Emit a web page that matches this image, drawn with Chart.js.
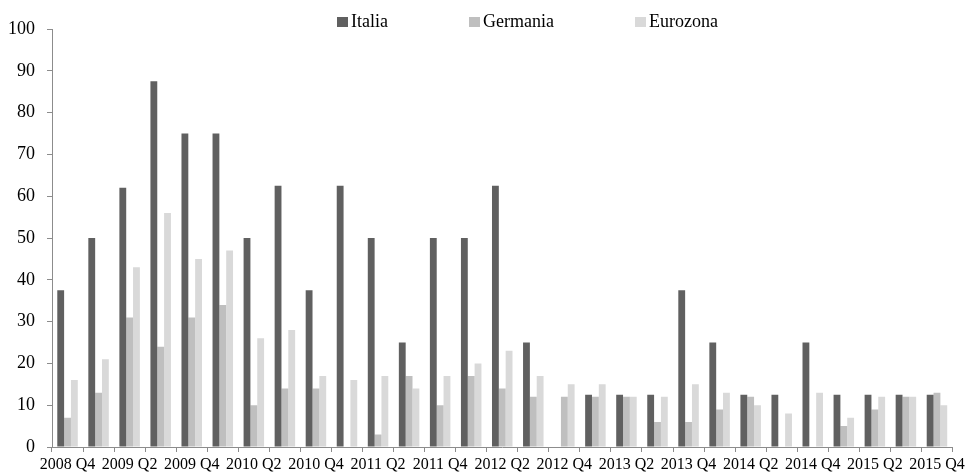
<!DOCTYPE html>
<html>
<head>
<meta charset="utf-8">
<script src="https://cdn.jsdelivr.net/npm/chart.js@4/dist/chart.umd.min.js"></script>
<style>
  html, body { margin: 0; padding: 0; background: #fff; }
  #wrap { position: relative; width: 968px; height: 473px; }
  #legend { position: absolute; top: 10px; left: 0; width: 968px; height: 22px;
            font-family: "Liberation Serif", "Times New Roman", serif; font-size: 18px; color: #000; }
  .item { position: absolute; top: 0; height: 22px; line-height: 22px; white-space: nowrap; }
  .item .box { display: inline-block; width: 11px; height: 10px; margin-right: 3px; vertical-align: 0px; }
</style>
</head>
<body>
<div id="wrap">
  <canvas id="chart" width="968" height="473"></canvas>
  <div id="legend"></div>
</div>
<script>
// Quarters from 2008 Q4 to 2015 Q4
const quarters = [
  '2008 Q4',
  '2009 Q1', '2009 Q2', '2009 Q3', '2009 Q4',
  '2010 Q1', '2010 Q2', '2010 Q3', '2010 Q4',
  '2011 Q1', '2011 Q2', '2011 Q3', '2011 Q4',
  '2012 Q1', '2012 Q2', '2012 Q3', '2012 Q4',
  '2013 Q1', '2013 Q2', '2013 Q3', '2013 Q4',
  '2014 Q1', '2014 Q2', '2014 Q3', '2014 Q4',
  '2015 Q1', '2015 Q2', '2015 Q3', '2015 Q4'
];

const seriesNames = ['Italia', 'Germania', 'Eurozona'];

const italia = [
  37.5, 50, 62, 87.5, 75, 75, 50, 62.5, 37.5, 62.5, 50, 25, 50, 50, 62.5,
  25, null, 12.5, 12.5, 12.5, 37.5, 25, 12.5, 12.5, 25, 12.5, 12.5, 12.5, 12.5
];
const germania = [
  7, 13, 31, 24, 31, 34, 10, 14, 14, null, 3, 17, 10, 17, 14,
  12, 12, 12, 12, 6, 6, 9, 12, null, null, 5, 9, 12, 13
];
const eurozona = [
  16, 21, 43, 56, 45, 47, 26, 28, 17, 16, 17, 14, 17, 20, 23,
  17, 15, 15, 12, 12, 15, 13, 10, 8, 13, 7, 12, 12, 10
];

const yTicks = [0, 10, 20, 30, 40, 50, 60, 70, 80, 90, 100];

const colors = ['#606060', '#bfbfbf', '#d9d9d9'];
const axisColor = '#8c8c8c';
const serif = '"Liberation Serif", "Times New Roman", serif';

const chart = new Chart(document.getElementById('chart'), {
  type: 'bar',
  data: {
    labels: quarters,
    datasets: [italia, germania, eurozona].map((values, i) => ({
      label: seriesNames[i],
      data: values,
      backgroundColor: colors[i],
      borderWidth: 0,
      categoryPercentage: 0.66,
      barPercentage: 1.0
    }))
  },
  options: {
    responsive: false,
    animation: false,
    layout: { padding: { top: 29, right: 15, left: 0, bottom: 0 } },
    plugins: {
      legend: { display: false },
      tooltip: { enabled: false }
    },
    scales: {
      x: {
        grid: {
          display: true,
          offset: true,
          drawOnChartArea: false,
          drawTicks: true,
          tickLength: 5,
          color: axisColor
        },
        border: { display: true, color: axisColor, width: 1 },
        ticks: {
          autoSkip: false,
          maxRotation: 0,
          minRotation: 0,
          padding: 3,
          color: '#000',
          font: { family: serif, size: 16 },
          callback: (v, i) => (i % 2 === 0 ? quarters[i] : '')
        },
        afterFit: (scale) => { scale.height = 26; }
      },
      y: {
        min: 0,
        max: 100,
        afterBuildTicks: (scale) => { scale.ticks = yTicks.map(v => ({ value: v })); },
        grid: {
          display: true,
          drawOnChartArea: false,
          drawTicks: true,
          tickLength: 5,
          color: axisColor
        },
        border: { display: true, color: axisColor, width: 1 },
        ticks: {
          padding: 12,
          color: '#000',
          font: { family: serif, size: 18 }
        },
        afterFit: (scale) => { scale.width = 52; }
      }
    }
  }
});

// Legend row above the plot, built from the datasets
const legendPositions = [337, 469, 635];
const legend = document.getElementById('legend');
chart.data.datasets.forEach((ds, i) => {
  const item = document.createElement('div');
  item.className = 'item';
  item.style.left = legendPositions[i] + 'px';
  const box = document.createElement('span');
  box.className = 'box';
  box.style.background = ds.backgroundColor;
  item.appendChild(box);
  item.appendChild(document.createTextNode(ds.label));
  legend.appendChild(item);
});
</script>
</body>
</html>
